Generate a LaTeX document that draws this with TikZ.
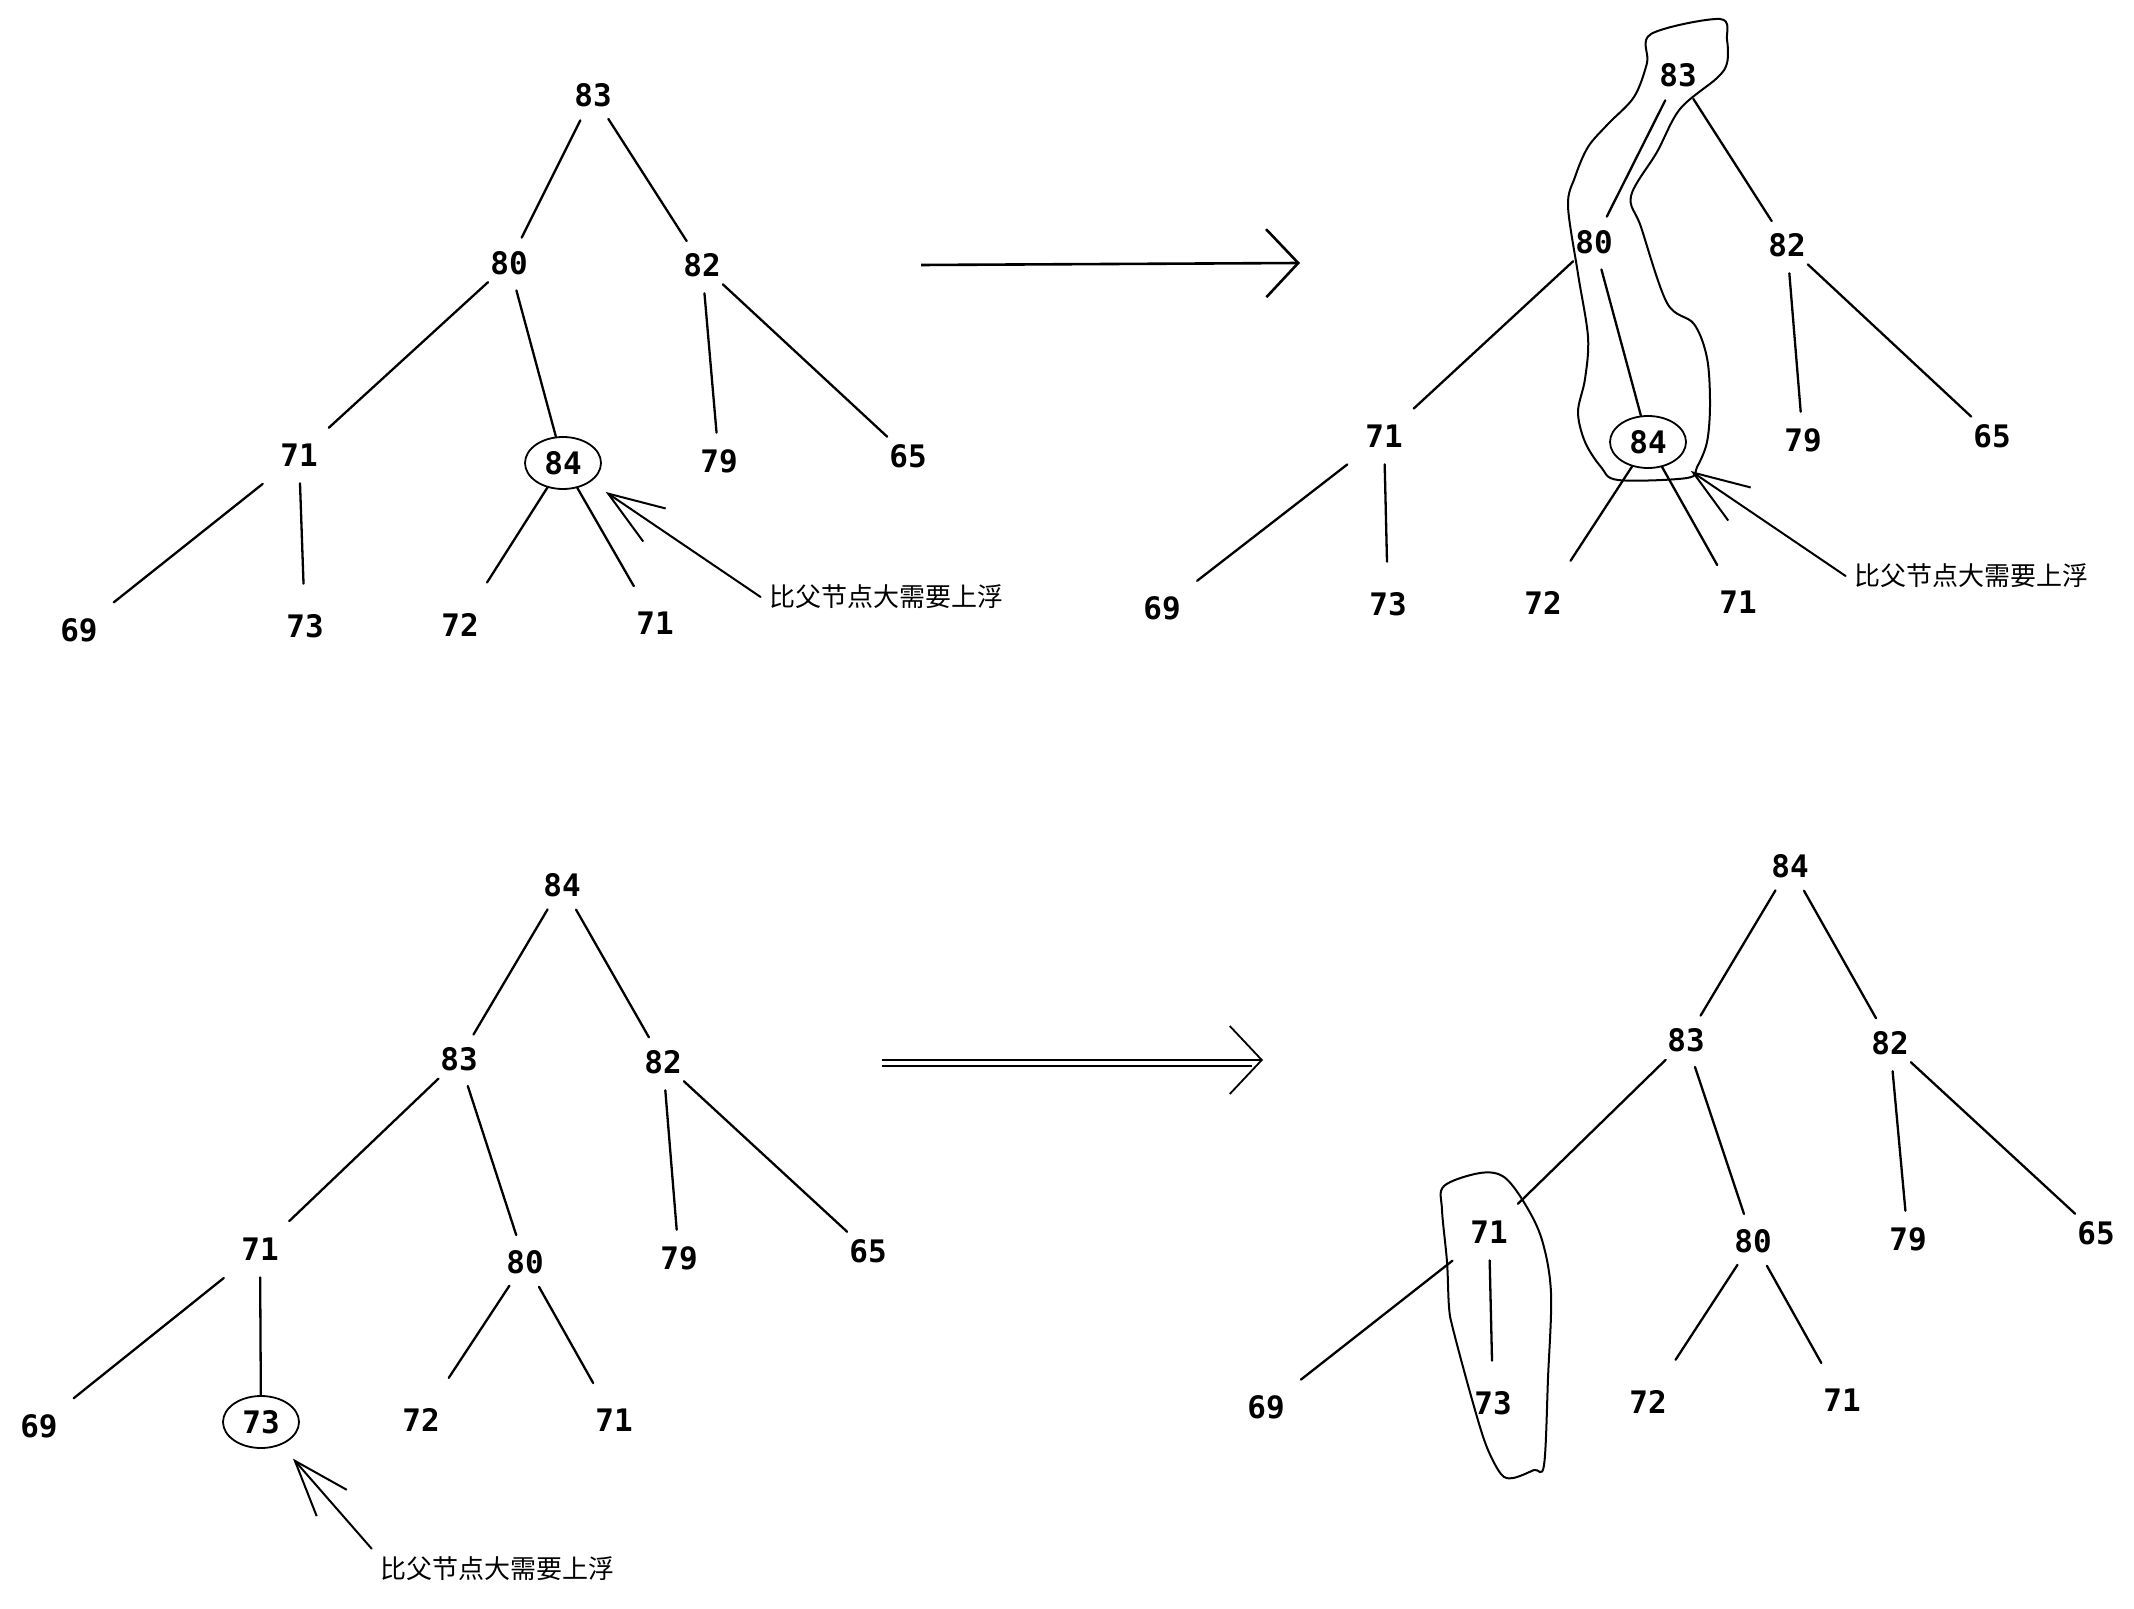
\documentclass[tikz,border=0pt]{standalone}
\usepackage{fontspec}
\newfontfamily\numfont{DejaVu Sans Mono}
\newfontfamily\cjk{Noto Sans CJK SC}
\usetikzlibrary{arrows.meta,shapes.geometric}
\tikzset{
  num/.style={circle, minimum size=28pt, inner sep=0pt, font=\numfont\bfseries\fontsize{15.5}{18}\selectfont},
  hl/.style={ellipse, draw, line width=0.9pt, minimum width=38pt, minimum height=26pt, inner sep=0pt, font=\numfont\bfseries\fontsize{15.5}{18}\selectfont},
  edge/.style={line width=1.15pt, line cap=round},
  lf/.style={edge, shorten >=7pt},
  lfl/.style={edge, shorten >=11pt},
  mid/.style={edge, shorten >=6pt},
  both/.style={edge, shorten <=9pt, shorten >=8pt},
  note/.style={font=\cjk\fontsize{13}{15}\selectfont, inner sep=4pt},
  ptr/.style={line width=1pt, line cap=round, -{Straight Barb[length=28pt,width=20pt]}, shorten >=9pt},
  bigarr/.style={line width=1.3pt, -{Straight Barb[length=16pt,width=34pt]}},
  blob/.style={line width=1pt, smooth cycle, tension=0.55}
}
\begin{document}
\begin{tikzpicture}[x=0.5pt, y=-0.5pt]
\fill[white] (0,0) rectangle (2134,1609);
\useasboundingbox (0,0) rectangle (2134,1609);

% ---------- Tree A (top left)
\node[num] (a83) at (593,95) {83};
\node[num] (a80) at (509,263) {80};
\node[num] (a82) at (702,265) {82};
\node[num] (a71) at (299,455) {71};
\node[hl]  (a84) at (563,463) {84};
\node[num] (a79) at (719,461) {79};
\node[num] (a65) at (908,456) {65};
\node[num] (a69) at (79,630) {69};
\node[num] (a73) at (305,626) {73};
\node[num] (a72) at (460,625) {72};
\node[num] (a71b) at (655,623) {71};
\node[note] (an) at (886,597) {比父节点大需要上浮};
\draw[edge] (a83) -- (a80);
\draw[edge] (a83) -- (a82);
\draw[mid] (a80) -- (a71);
\draw[edge] (a80) -- (a84);
\draw[edge] (a82) -- (a79);
\draw[edge] (a82) -- (a65);
\draw[both] (a71) -- (a69);
\draw[lf] (a71) -- (a73);
\draw[lfl] (a84) -- (a72);
\draw[lf] (a84) -- (a71b);
\draw[ptr] (an.west) -- (a84);

% ---------- arrow top
\coordinate (p1) at (921,265);
\coordinate (p2) at (1300,263);
\draw[bigarr] (p1) -- (p2);

% ---------- Tree B (top right)
\draw[blob] plot coordinates {(1651,34) (1720,19) (1727,40) (1727,63) (1717,78) (1680,109) (1657,152) (1631,196) (1641,227) (1667,303) (1694,324) (1707,358) (1710,404) (1707,442) (1697,467) (1687,478) (1618,480) (1601,467) (1585,442) (1578,412) (1585,379) (1588,337) (1578,274) (1568,206) (1575,177) (1588,147) (1608,124) (1634,97) (1647,63)};
\node[num] (b83) at (1678,75) {83};
\node[num] (b80) at (1594,242) {80};
\node[num] (b82) at (1787,245) {82};
\node[num] (b71) at (1384,436) {71};
\node[hl]  (b84) at (1648,442) {84};
\node[num] (b79) at (1803,440) {79};
\node[num] (b65) at (1992,436) {65};
\node[num] (b69) at (1162,608) {69};
\node[num] (b73) at (1388,604) {73};
\node[num] (b72) at (1543,603) {72};
\node[num] (b71b) at (1738,602) {71};
\node[note] (bn) at (1971,576) {比父节点大需要上浮};
\draw[edge] (b83) -- (b80);
\draw[edge] (b83) -- (b82);
\draw[mid] (b80) -- (b71);
\draw[edge] (b80) -- (b84);
\draw[edge] (b82) -- (b79);
\draw[edge] (b82) -- (b65);
\draw[both] (b71) -- (b69);
\draw[lf] (b71) -- (b73);
\draw[lfl] (b84) -- (b72);
\draw[lf] (b84) -- (b71b);
\draw[ptr] (bn.west) -- (b84);

% ---------- Tree C (bottom left)
\node[num] (c84) at (562,885) {84};
\node[num] (c83) at (459,1059) {83};
\node[num] (c82) at (663,1062) {82};
\node[num] (c71) at (260,1249) {71};
\node[num] (c80) at (525,1262) {80};
\node[num] (c79) at (679,1258) {79};
\node[num] (c65) at (868,1251) {65};
\node[num] (c69) at (39,1426) {69};
\node[hl]  (c73) at (261,1422) {73};
\node[num] (c72) at (421,1420) {72};
\node[num] (c71b) at (614,1420) {71};
\node[note] (cn) at (497,1569) {比父节点大需要上浮};
\draw[edge] (c84) -- (c83);
\draw[edge] (c84) -- (c82);
\draw[mid] (c83) -- (c71);
\draw[edge] (c83) -- (c80);
\draw[edge] (c82) -- (c79);
\draw[edge] (c82) -- (c65);
\draw[both] (c71) -- (c69);
\draw[edge] (c71) -- (c73);
\draw[lfl] (c80) -- (c72);
\draw[lf] (c80) -- (c71b);
\draw[ptr] (cn.north west) -- (c73);

% ---------- arrow bottom (double shaft)
\coordinate (q1) at (882,1060);
\coordinate (q2) at (1263,1060);
\coordinate (q3) at (882,1066);
\coordinate (q4) at (1252,1066);
\draw[bigarr, line width=0.9pt] (q1) -- (q2);
\draw[line width=0.9pt] (q3) -- (q4);

% ---------- Tree D (bottom right)
\draw[blob] plot coordinates {(1444,1186) (1480,1173) (1504,1177) (1525,1204) (1542,1240) (1551,1293) (1548,1378) (1544,1465) (1534,1470) (1513,1478) (1501,1474) (1486,1445) (1471,1396) (1453,1329) (1449,1307) (1447,1262) (1442,1210)};
\node[num] (d84) at (1790,866) {84};
\node[num] (d83) at (1686,1040) {83};
\node[num] (d82) at (1890,1043) {82};
\node[num] (d71) at (1489,1232) {71};
\node[num] (d80) at (1753,1241) {80};
\node[num] (d79) at (1908,1239) {79};
\node[num] (d65) at (2096,1233) {65};
\node[num] (d69) at (1266,1407) {69};
\node[num] (d73) at (1493,1403) {73};
\node[num] (d72) at (1648,1402) {72};
\node[num] (d71b) at (1842,1400) {71};
\draw[edge] (d84) -- (d83);
\draw[edge] (d84) -- (d82);
\draw[mid] (d83) -- (d71);
\draw[edge] (d83) -- (d80);
\draw[edge] (d82) -- (d79);
\draw[edge] (d82) -- (d65);
\draw[both] (d71) -- (d69);
\draw[lf] (d71) -- (d73);
\draw[lfl] (d80) -- (d72);
\draw[lf] (d80) -- (d71b);
\end{tikzpicture}
\end{document}
